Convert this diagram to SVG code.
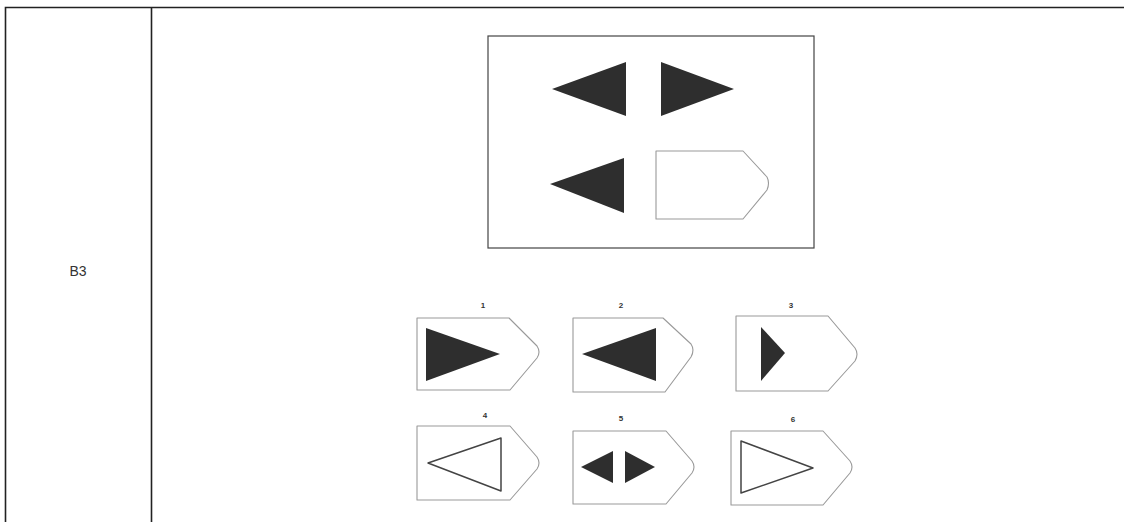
<svg xmlns="http://www.w3.org/2000/svg" width="1124" height="522" viewBox="0 0 1124 522">
<style>
.grid{stroke:#222;stroke-width:1.6;fill:none}
.frame{stroke:#444;stroke-width:1.2;fill:none}
.pent{stroke:#9a9a9a;stroke-width:1.1;fill:none;stroke-linejoin:round}
.solid{fill:#2e2e2e}
.hollow{fill:none;stroke:#444;stroke-width:1.5;stroke-linejoin:round}
.num{font-family:"Liberation Sans",Arial,sans-serif;font-size:8px;font-weight:bold;fill:#333;text-anchor:middle}
.cell{font-family:"Liberation Sans",Arial,sans-serif;font-size:14px;fill:#333;text-anchor:middle}
</style>
<rect width="1124" height="522" fill="#fff"/>
<g id="table">
<path class="grid" d="M5.5 522 V7.5 H1124 M151.5 7.5 V522"/>
<text class="cell" x="78" y="276">B3</text>
</g>
<g id="question">
<rect class="frame" x="488" y="36" width="326" height="212"/>
<polygon class="solid" points="552,89 626,62 626,116"/>
<polygon class="solid" points="661,62 734,89 661,116"/>
<polygon class="solid" points="550,184 624,158 624,213"/>
<path class="pent" d="M656 151 H743 L767 177 Q770 183 767 190 L743 219 H656 Z"/>
</g>
<g id="option1">
<text class="num" x="483" y="308">1</text>
<path class="pent" d="M417 318 H509 L537 346 Q541 352 537 358 L510 390 H417 Z"/>
<polygon class="solid" points="426,328 500,354 426,381"/>
</g>
<g id="option2">
<text class="num" x="621" y="308">2</text>
<path class="pent" d="M573 318 H663 L691 344 Q695 350 691 357 L665 392 H573 Z"/>
<polygon class="solid" points="582,354 656,328 656,381"/>
</g>
<g id="option3">
<text class="num" x="791" y="308">3</text>
<path class="pent" d="M736 316 H828 L855 348 Q859 354 855 361 L828 391 H736 Z"/>
<polygon class="solid" points="761,327 785,353 761,381"/>
</g>
<g id="option4">
<text class="num" x="485" y="418">4</text>
<path class="pent" d="M417 426 H510 L537 457 Q541 463 537 469 L510 500 H417 Z"/>
<polygon class="hollow" points="428,463 501,438 501,491"/>
</g>
<g id="option5">
<text class="num" x="621" y="421">5</text>
<path class="pent" d="M573 431 H666 L692 461 Q696 467 692 473 L666 504 H573 Z"/>
<polygon class="solid" points="581,467 613,451 613,483"/>
<polygon class="solid" points="625,451 655,467 625,483"/>
</g>
<g id="option6">
<text class="num" x="793" y="422">6</text>
<path class="pent" d="M731 431 H823 L850 461 Q854 467 850 473 L823 505 H731 Z"/>
<polygon class="hollow" points="741,441 813,468 741,493"/>
</g>
</svg>
